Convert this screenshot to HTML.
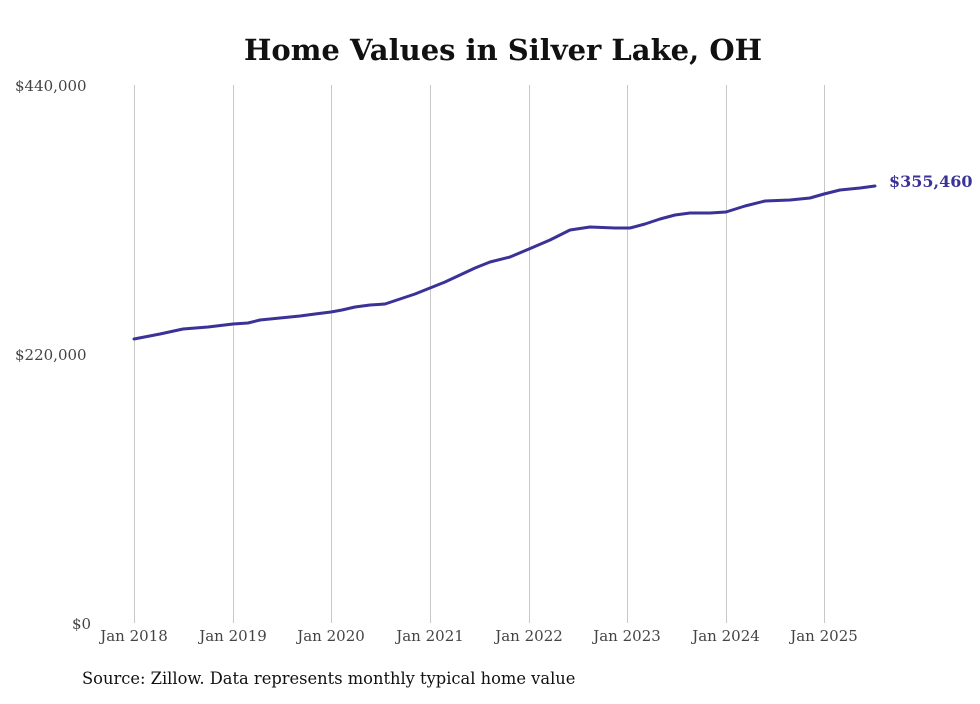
<!DOCTYPE html>
<html><head><meta charset="utf-8"><style>
html,body{margin:0;padding:0;background:#fff;}
body{width:980px;height:699px;overflow:hidden;}
svg text{font-family:"DejaVu Serif","Liberation Serif",serif;}
</style></head><body>
<svg width="980" height="699" xmlns="http://www.w3.org/2000/svg">
<text x="503" y="60" text-anchor="middle" font-size="29" font-weight="bold" fill="#111">Home Values in Silver Lake, OH</text>
<g stroke="#c8c8c8" stroke-width="1">
<line x1="134.5" y1="85" x2="134.5" y2="623"/>
<line x1="233.5" y1="85" x2="233.5" y2="623"/>
<line x1="331.5" y1="85" x2="331.5" y2="623"/>
<line x1="430.5" y1="85" x2="430.5" y2="623"/>
<line x1="529.5" y1="85" x2="529.5" y2="623"/>
<line x1="627.5" y1="85" x2="627.5" y2="623"/>
<line x1="726.5" y1="85" x2="726.5" y2="623"/>
<line x1="824.5" y1="85" x2="824.5" y2="623"/>
</g>
<g font-size="15" fill="#444">
<text x="15" y="91">$440,000</text>
<text x="15" y="360">$220,000</text>
<text x="72" y="629">$0</text>
</g>
<g font-size="15" fill="#444" text-anchor="middle">
<text x="134" y="641">Jan 2018</text>
<text x="233" y="641">Jan 2019</text>
<text x="331" y="641">Jan 2020</text>
<text x="430" y="641">Jan 2021</text>
<text x="529" y="641">Jan 2022</text>
<text x="627" y="641">Jan 2023</text>
<text x="726" y="641">Jan 2024</text>
<text x="824" y="641">Jan 2025</text>
</g>
<polyline fill="none" stroke="#3a3296" stroke-width="3" stroke-linejoin="round" stroke-linecap="round"
points="134,339 160,334 183,329 208,327 233,324 248,323 260,320 280,318 300,316 315,314 331,312 342,310 355,307 370,305 385,304 400,299 415,294 430,288 445,282 460,275 475,268 490,262 510,257 529,249 550,240 570,230 590,227 615,228 630,228 645,224 660,219 675,215 690,213 710,213 726,212 745,206 765,201 790,200 810,198 824,194 840,190 860,188 875,186"/>
<text x="889" y="187" font-size="16" font-weight="bold" fill="#3a3296">$355,460</text>
<text x="82" y="684" font-size="16.3" fill="#111">Source: Zillow. Data represents monthly typical home value</text>
</svg>
</body></html>
